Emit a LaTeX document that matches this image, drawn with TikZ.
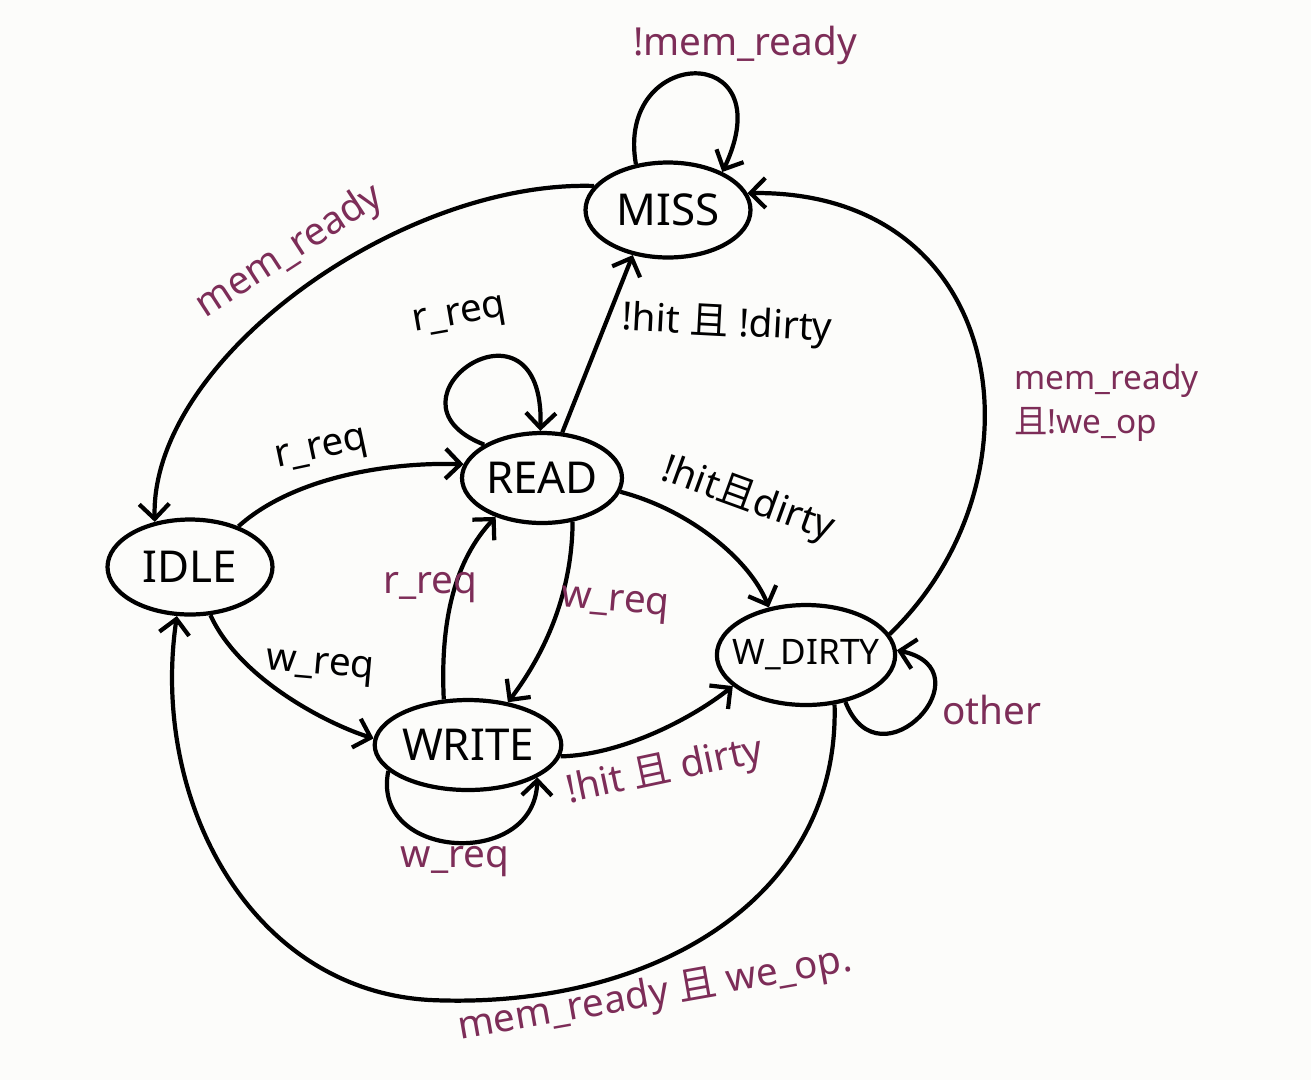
\documentclass[tikz,border=0pt]{standalone}
\usepackage{fontspec}
\setmainfont{Noto Sans}
\newfontfamily\cjk{Noto Sans CJK SC}
\usepackage{tikz}
\usetikzlibrary{arrows.meta, positioning, shapes.geometric}
\definecolor{ink}{RGB}{125,45,88}
\definecolor{paper}{RGB}{252,252,250}
\newcommand{\qie}{{\cjk 且}}

\begin{document}
\begin{tikzpicture}[
  x=0.02cm, y=-0.02cm,
  state/.style={ellipse, draw, line width=2.4pt, minimum width=3.3cm, minimum height=1.9cm, inner sep=0pt, font=\fontsize{25}{28}\selectfont},
  edge/.style={-{Straight Barb[length=3mm, width=6mm]}, line width=2.4pt},
  lbl/.style={font=\fontsize{22}{26}\selectfont, text=ink},
  blk/.style={font=\fontsize{22}{26}\selectfont, text=black}
]
\fill[paper] (0,0) rectangle (1311,1080);
\useasboundingbox (0,0) rectangle (1311,1080);

% States
\node[state] (miss) at (668,210) {MISS};
\node[state, minimum width=3.2cm, minimum height=1.8cm] (read) at (542,478) {READ};
\node[state] (idle) at (190,567) {IDLE};
\node[state, minimum height=1.8cm] (write) at (468,745) {WRITE};
\node[state, minimum height=2cm, inner sep=-6pt, font=\fontsize{20}{22}\selectfont] (wdirty) at (806,655) {W\_DIRTY};

% Self loops
\draw[edge] (miss.125) .. controls (615,45) and (785,40) .. (miss.35);
\draw[edge] (read.150) .. controls (370,400) and (545,280) .. (read.92);
\draw[edge] (write.198) .. controls (370,860) and (535,870) .. (write.335);
\draw[edge] (wdirty.310) .. controls (880,790) and (990,670) .. (wdirty.3);

% Transitions
\draw[edge] (miss.162) .. controls (400,180) and (150,360) .. (idle.128);
\draw[edge] (idle.40) .. controls (290,480) and (380,462) .. (read.170);
\draw[edge] (read.66) -- (miss.232);
\draw[edge] (read.350) .. controls (690,510) and (750,560) .. (wdirty.128);
\draw[edge] (read.305) .. controls (572,600) and (540,660) .. (write.47);
\draw[edge] (write.118) .. controls (440,620) and (455,560) .. (read.220);
\draw[edge] (idle.293) .. controls (240,680) and (330,725) .. (write.176);
\draw[edge] (write.353) .. controls (620,755) and (690,720) .. (wdirty.203);
\draw[edge] (wdirty.14) .. controls (1050,480) and (1010,190) .. (miss.12);
\draw[edge] (wdirty.300) .. controls (840,900) and (650,1010) .. (430,1000)
  .. controls (250,990) and (150,800) .. (idle.255);

% Labels
\node[lbl] (l1) at (745,45) {!mem\_ready};
\node[lbl, rotate=33] (l2) at (290,252) {mem\_ready};
\node[blk, rotate=10] (l3) at (460,318) {r\_req};
\node[blk, rotate=12] (l4) at (322,452) {r\_req};
\node[blk, rotate=-3] (l5) at (727,325) {!hit \qie{} !dirty};
\node[blk, rotate=-20] (l6) at (748,500) {!hit\qie dirty};
\node[lbl, rotate=-5] (l7) at (615,605) {w\_req};
\node[lbl] (l8) at (430,588) {r\_req};
\node[blk, rotate=-5] (l9) at (320,668) {w\_req};
\node[lbl] (l10) at (455,862) {w\_req};
\node[lbl, rotate=12] (l11) at (665,772) {!hit \qie{} dirty};
\node[lbl, align=left, anchor=west, font=\fontsize{19}{25}\selectfont] (l12) at (1008,403) {mem\_ready\\\qie!we\_op};
\node[lbl] (l13) at (992,710) {other};
\node[lbl, rotate=10] (l14) at (655,995) {mem\_ready \qie{} we\_op.};
\end{tikzpicture}
\end{document}
